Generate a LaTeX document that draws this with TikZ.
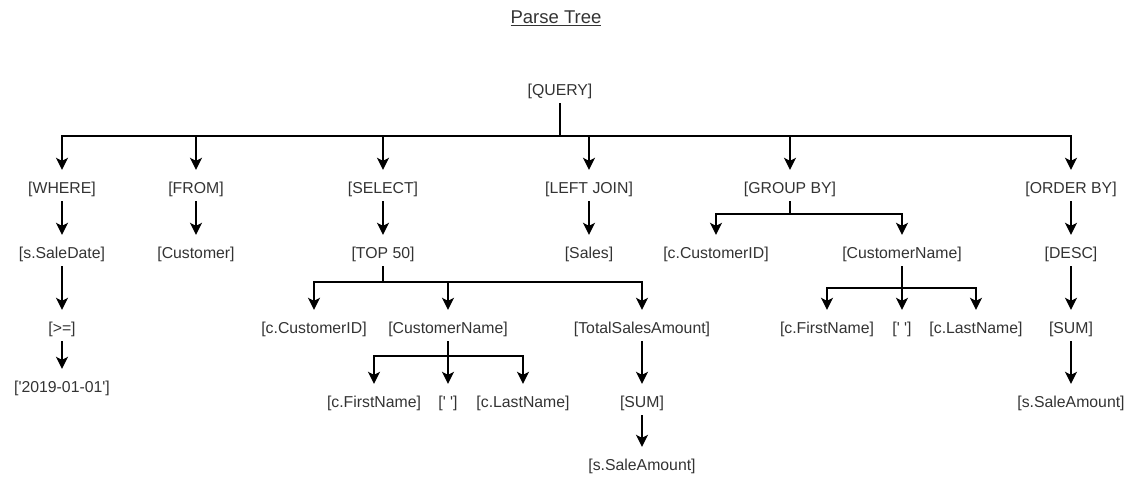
\documentclass[tikz,border=0pt]{standalone}
\usepackage{fontspec}
\setmainfont{Liberation Sans}
\usetikzlibrary{arrows.meta}

\begin{document}
\begin{tikzpicture}[x=1pt, y=-1pt, font=\fontsize{15.8}{18}\selectfont, text=black!80]
        % Setup the styles for the words and the links
        \tikzset{word/.style={inner xsep=2pt,
                              inner ysep=5.25pt,
                              text height=13.5pt,
                              text depth=2pt},
                 link/.style={line width=1.5pt,
                              -{Stealth[length=12pt, width=12pt, inset=3pt]},
                              shorten >=5pt}}
        \useasboundingbox (0,0) rectangle (1133,477);

        % Title
        \node[font=\fontsize{18.5}{20}\selectfont] at (556,18) (title) {\underline{Parse Tree}};

        % Draw the words
        \node[word] at (560,90)   (query)    {[QUERY]};
        \node[word] at (62,188)   (where)    {[WHERE]};
        \node[word] at (196,188)  (from)     {[FROM]};
        \node[word] at (383,188)  (select)   {[SELECT]};
        \node[word] at (589,188)  (leftjoin) {[LEFT JOIN]};
        \node[word] at (790,188)  (groupby)  {[GROUP BY]};
        \node[word] at (1071,188) (orderby)  {[ORDER BY]};
        \node[word] at (62,253)   (saledate) {[s.SaleDate]};
        \node[word] at (196,253)  (customer) {[Customer]};
        \node[word] at (383,253)  (top)      {[TOP 50]};
        \node[word] at (589,253)  (sales)    {[Sales]};
        \node[word] at (716,253)  (gid)      {[c.CustomerID]};
        \node[word] at (902,253)  (gname)    {[CustomerName]};
        \node[word] at (1071,253) (desc)     {[DESC]};
        \node[word] at (62,328)   (geq)      {[>=]};
        \node[word] at (314,328)  (sid)      {[c.CustomerID]};
        \node[word] at (448,328)  (sname)    {[CustomerName]};
        \node[word] at (642,328)  (total)    {[TotalSalesAmount]};
        \node[word] at (827,328)  (gfirst)   {[c.FirstName]};
        \node[word] at (902,328)  (gspace)   {[\textquotesingle\ \textquotesingle]};
        \node[word] at (976,328)  (glast)    {[c.LastName]};
        \node[word] at (1071,328) (osum)     {[SUM]};
        \node[word] at (62,387)   (date)     {[\textquotesingle 2019-01-01\textquotesingle]};
        \node[word] at (374,402)  (sfirst)   {[c.FirstName]};
        \node[word] at (448,402)  (sspace)   {[\textquotesingle\ \textquotesingle]};
        \node[word] at (523,402)  (slast)    {[c.LastName]};
        \node[word] at (642,402)  (ssum)     {[SUM]};
        \node[word] at (1071,402) (oamount)  {[s.SaleAmount]};
        \node[word] at (642,465)  (samount)  {[s.SaleAmount]};

        % Junctions of the branches
        \coordinate (qbar) at (560,136);
        \coordinate (tbar) at (383,282);
        \coordinate (gbar) at (790,214);
        \coordinate (sbar) at (448,356);
        \coordinate (nbar) at (902,288);

        % Connect the words
        \foreach \c in {where, from, select, leftjoin, groupby, orderby}
            \draw[link] (query.south) -- (qbar) -| (\c);
        \foreach \c in {sid, sname, total}
            \draw[link] (top.south) -- (tbar) -| (\c);
        \foreach \c in {gid, gname}
            \draw[link] (groupby.south) -- (gbar) -| (\c);
        \foreach \c in {sfirst, sspace, slast}
            \draw[link] (sname.south) -- (sbar) -| (\c);
        \foreach \c in {gfirst, gspace, glast}
            \draw[link] (gname.south) -- (nbar) -| (\c);
        \draw[link] (where) -- (saledate);
        \draw[link] (saledate) -- (geq);
        \draw[link] (geq) -- (date);
        \draw[link] (from) -- (customer);
        \draw[link] (select) -- (top);
        \draw[link] (leftjoin) -- (sales);
        \draw[link] (total) -- (ssum);
        \draw[link] (ssum) -- (samount);
        \draw[link] (orderby) -- (desc);
        \draw[link] (desc) -- (osum);
        \draw[link] (osum) -- (oamount);
\end{tikzpicture}
\end{document}
